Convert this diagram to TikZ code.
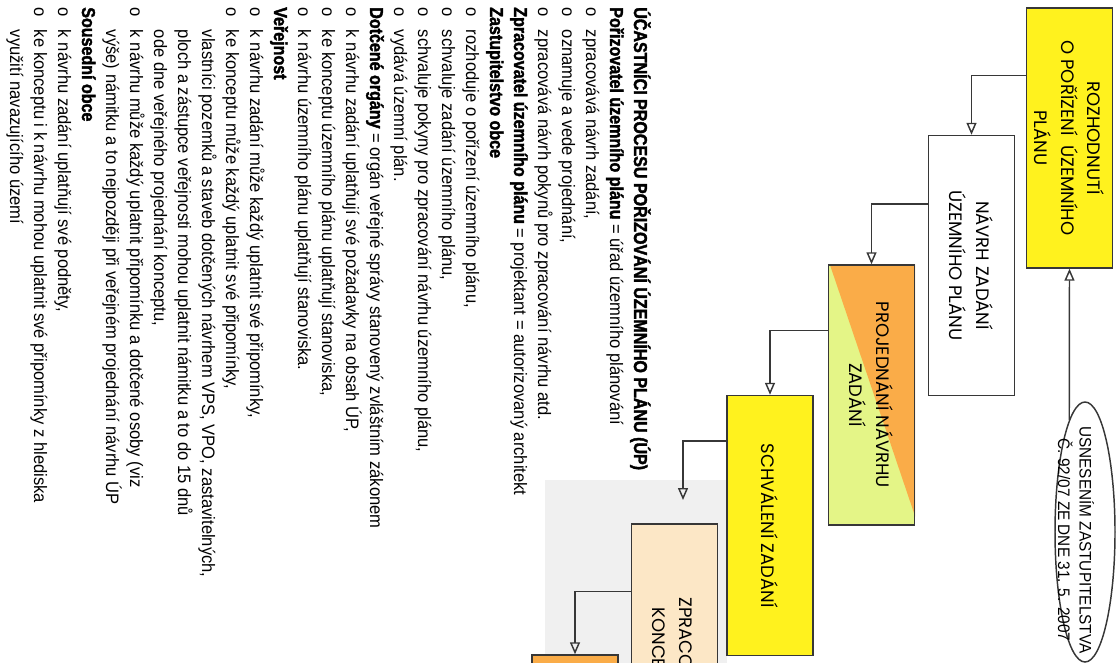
\documentclass[tikz,border=0pt]{standalone}
\usepackage{fontspec}
\usepackage{xcolor}
\usetikzlibrary{arrows.meta,shapes.geometric,calc,backgrounds}

\newfontfamily\bodyfont[FakeStretch=0.92]{Liberation Sans}
\newfontfamily\headfont[FakeStretch=0.86,FakeBold=2]{Liberation Sans Bold}
\newfontfamily\boxfont{Poppins}

\definecolor{boxline}{RGB}{55,55,55}
\definecolor{zluta}{RGB}{255,242,30}
\definecolor{oranzova}{RGB}{250,172,72}
\definecolor{zelenkava}{RGB}{228,245,135}
\definecolor{bezova}{RGB}{252,231,198}
\definecolor{sedapozadi}{RGB}{240,240,240}

\newcommand{\bod}{\makebox[17pt][l]{o}}
\newcommand{\odsaz}{\hspace*{17pt}}
\newcommand{\tucne}[1]{{\headfont\fontsize{14}{18}\selectfont #1}}

\begin{document}
\begin{tikzpicture}[x=0.75pt,y=0.75pt,yscale=-1,xscale=1,
  stepbox/.style={draw=boxline,line width=1.1pt,rotate=-90,minimum width=195pt,minimum height=64.5pt,inner sep=2pt,align=center,font=\boxfont\fontsize{13.5}{20}\selectfont},
  flow/.style={draw=boxline,line width=1.1pt,-{Triangle[open,length=9pt,width=7.5pt]}},
  textblock/.style={rotate=-90,anchor=north west,align=left,inner sep=0pt,font=\bodyfont\fontsize{13.5}{18}\selectfont}]
\useasboundingbox (0,0) rectangle (1120,663);
\clip (0,0) rectangle (1120,663);

%Shape: Rectangle (grey background of the scan)
\fill [sedapozadi] (545,480) rectangle (727,663);

%Shape: Boxes
\node [stepbox,fill=zluta] (rozhodnuti) at (1069.5,138) {ROZHODNUTÍ\\O POŘÍZENÍ~~ÚZEMNÍHO\\PLÁNU};
\node [stepbox,fill=white] (navrh) at (971.5,265.5) {NÁVRH ZADÁNÍ\\ÚZEMNÍHO PLÁNU};
\node [stepbox] (projednani) at (871.5,395) {PROJEDNÁNÍ NÁVRHU\\ZADÁNÍ};
\node [stepbox,fill=zluta] (schvaleni) at (770,525.5) {SCHVÁLENÍ ZADÁNÍ};
\node [stepbox,fill=bezova] (zpracovani) at (674.5,654) {ZPRACOVÁNÍ\\KONCEPTU};
\node [stepbox,fill=oranzova] (dalsi) at (575,785) {};

%Shape: two colours of the third box
\begin{scope}[on background layer]
\fill [zelenkava] (projednani.south west) -- (projednani.north west) -- (projednani.north east) -- (projednani.south east) -- cycle;
\fill [oranzova] ($(projednani.south west)+(2,0)$) -- (projednani.north west) -- ($(projednani.north east)+(0,-9)$) -- cycle;
\end{scope}

%Shape: Ellipse
\node [draw=boxline,line width=1.1pt,ellipse,rotate=-90,minimum width=195pt,minimum height=45pt,inner sep=0pt] (usneseni) at (1085,532) {};
% Text Node
\node [rotate=-90,align=center,inner sep=0pt,font=\bodyfont\fontsize{12.5}{16}\selectfont] (usnesenitext) at ($(usneseni.center)+(-9,8)$) {USNESENÍM ZASTUPITELSTVA\\Č. 92/07 ZE DNE 31. 5. 2007};

%Straight Lines
\coordinate (konec4) at (683,500);
\draw [flow] (usneseni.188) -- (rozhodnuti.east);
\draw [flow] ($(rozhodnuti.south west)+(0,68)$) -| (navrh.west);
\draw [flow] ($(navrh.south west)+(0,69)$) -| (projednani.west);
\draw [flow] ($(projednani.south west)+(0,66)$) -| (schvaleni.west);
\draw [flow] ($(schvaleni.south west)+(0,46)$) -| (konec4);
\draw [flow] ($(zpracovani.south west)+(0,68)$) -| (dalsi.west);

% Text Node
\node [textblock] (ucastnici) at (651,7) {%
\tucne{ÚČASTNÍCI PROCESU POŘIZOVÁNÍ ÚZEMNÍHO PLÁNU (ÚP)}\\
\tucne{Pořizovatel územního plánu} = úřad územního plánování\\
\bod zpracovává návrh zadání,\\
\bod oznamuje a vede projednání,\\
\bod zpracovává návrh pokynů pro zpracování návrhu atd.\\
\tucne{Zpracovatel územního plánu} = projektant = autorizovaný architekt\\
\tucne{Zastupitelstvo obce}\\
\bod rozhoduje o pořízení územního plánu,\\
\bod schvaluje zadání územního plánu,\\
\bod schvaluje pokyny pro zpracování návrhu územního plánu,\\
\bod vydává územní plán.\\
\tucne{Dotčené orgány} = orgán veřejné správy stanovený zvláštním zákonem\\
\bod k návrhu zadání uplatňují své požadavky na obsah ÚP,\\
\bod ke konceptu územního plánu uplatňují stanoviska,\\
\bod k návrhu územního plánu uplatňují stanoviska.\\
\tucne{Veřejnost}\\
\bod k návrhu zadání může každý uplatnit své připomínky,\\
\bod ke konceptu může každý uplatnit své připomínky,\\
\odsaz vlastníci pozemků a staveb dotčených návrhem VPS, VPO, zastavitelných,\\
\odsaz ploch a zástupce veřejnosti mohou uplatnit námitku a to do 15 dnů\\
\odsaz ode dne veřejného projednání konceptu,\\
\bod k návrhu může každý uplatnit připomínku a dotčené osoby (viz\\
\odsaz výše) námitku a to nejpozději při veřejném projednání návrhu ÚP\\
\tucne{Sousední obce}\\
\bod k návrhu zadání uplatňují své podněty,\\
\bod ke konceptu i k návrhu mohou uplatnit své připomínky z hlediska\\
\odsaz využití navazujícího území};

\end{tikzpicture}
\end{document}
